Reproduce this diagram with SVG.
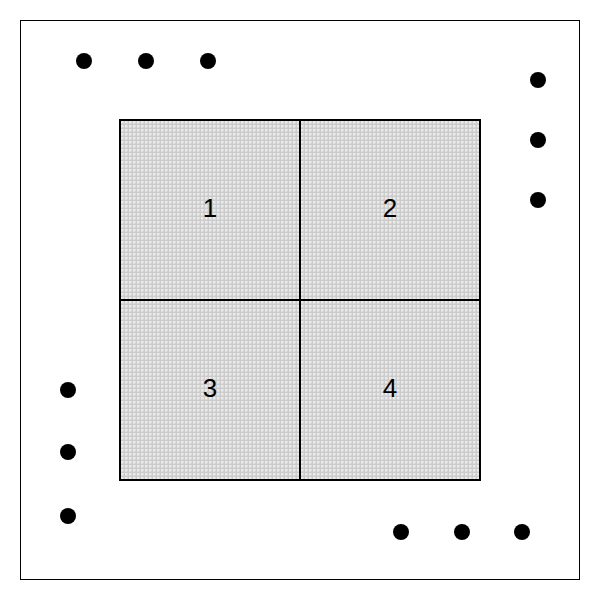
<svg xmlns="http://www.w3.org/2000/svg" width="600" height="600" viewBox="0 0 600 600">
<defs>
<pattern id="mesh" x="120" y="120" width="4" height="4" patternUnits="userSpaceOnUse">
<rect width="4" height="4" fill="#cccccc"/>
<rect x="1" y="1" width="2.5" height="2.5" fill="#ebebeb"/>
</pattern>
</defs>
<style>
.dot{fill:#000}
.lbl{font-family:"Liberation Sans",Arial,sans-serif;font-size:26px;fill:#000;text-anchor:middle}
.cell{fill:url(#mesh);stroke:#000;stroke-width:2}
</style>
<rect x="0" y="0" width="600" height="600" fill="#fff"/>
<rect id="frame" x="20.5" y="20.5" width="559" height="559" fill="none" stroke="#000" stroke-width="1"/>
<g id="cell1"><rect class="cell" x="120" y="120" width="180" height="180"/><text class="lbl" x="210" y="217">1</text></g>
<g id="cell2"><rect class="cell" x="300" y="120" width="180" height="180"/><text class="lbl" x="390" y="217">2</text></g>
<g id="cell3"><rect class="cell" x="120" y="300" width="180" height="180"/><text class="lbl" x="210" y="397">3</text></g>
<g id="cell4"><rect class="cell" x="300" y="300" width="180" height="180"/><text class="lbl" x="390" y="397">4</text></g>
<g id="dots-top"><circle class="dot" cx="84" cy="61" r="8"/><circle class="dot" cx="146" cy="61" r="8"/><circle class="dot" cx="208" cy="61" r="8"/></g>
<g id="dots-right"><circle class="dot" cx="538" cy="80" r="8"/><circle class="dot" cx="538" cy="140" r="8"/><circle class="dot" cx="538" cy="200" r="8"/></g>
<g id="dots-left"><circle class="dot" cx="68" cy="390" r="8"/><circle class="dot" cx="68" cy="452" r="8"/><circle class="dot" cx="68" cy="516" r="8"/></g>
<g id="dots-bottom"><circle class="dot" cx="401" cy="532" r="8"/><circle class="dot" cx="462" cy="532" r="8"/><circle class="dot" cx="522" cy="532" r="8"/></g>
<g id="connectors"></g>
</svg>
